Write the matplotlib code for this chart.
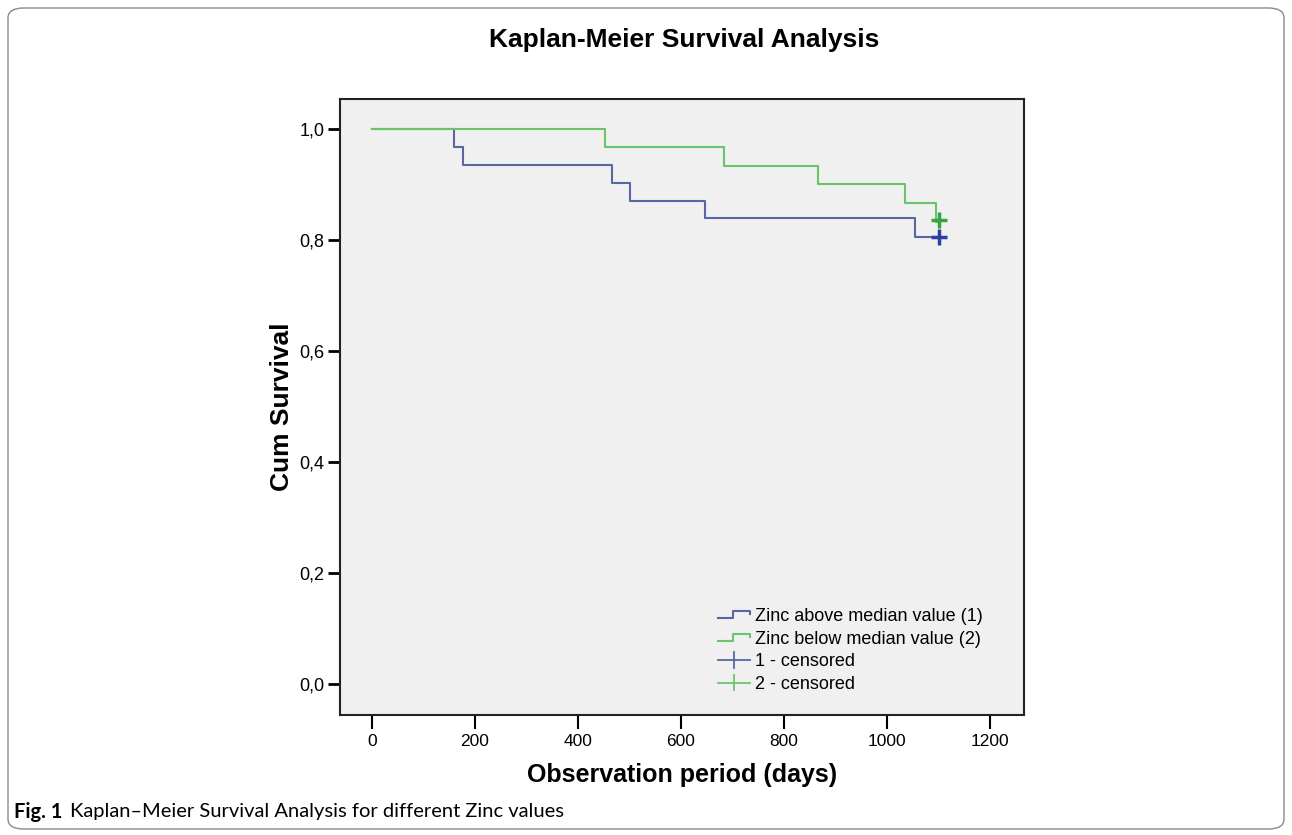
import matplotlib
matplotlib.use("Agg")
import matplotlib.pyplot as plt
from matplotlib.patches import FancyBboxPatch
from matplotlib.lines import Line2D
from matplotlib.legend_handler import HandlerBase
import numpy as np

# Data: step times (days) and survival levels
t_above = [0, 159, 177, 466, 501, 647, 1054, 1100]
s_above = [1.0, 0.968, 0.935, 0.903, 0.871, 0.839, 0.806, 0.806]
t_below = [0, 452, 683, 866, 1035, 1095, 1100]
s_below = [1.0, 0.967, 0.933, 0.900, 0.867, 0.833, 0.833]
cens_above_t = [1100]
cens_above_s = [0.806]
cens_below_t = [1100]
cens_below_s = [0.836]
xticks = [0, 200, 400, 600, 800, 1000, 1200]
yticks = [0.0, 0.2, 0.4, 0.6, 0.8, 1.0]
labels = ["Zinc above median value (1)", "Zinc below median value (2)",
          "1 - censored", "2 - censored"]

blue_line = "#5867a3"
blue_mark = "#2b3f9c"
green_line = "#6cc46a"
green_mark = "#2fa640"

plt.rcParams['font.family'] = ['Liberation Sans', 'DejaVu Sans']

fig = plt.figure(figsize=(12.92, 8.35), dpi=100)
fig.patch.set_facecolor("white")

# rounded border
border = FancyBboxPatch((8/1292, 6/835), 1276/1292, 821/835, transform=fig.transFigure,
                        boxstyle="round,pad=0,rounding_size=0.012",
                        facecolor="none", edgecolor="#8a8a8a", linewidth=1.0, clip_on=False)
fig.patches.append(border)

ax = fig.add_axes([340/1292, 1-715/835, 684/1292, 616/835])
ax.set_facecolor("#f0f0f0")

ax.step(t_above, s_above, where="post", color=blue_line, lw=1.5)
ax.step(t_below, s_below, where="post", color=green_line, lw=1.5)
ax.plot(cens_below_t, cens_below_s, '+', color=green_mark, ms=12, mew=2.5)
ax.plot(cens_above_t, cens_above_s, '+', color=blue_mark, ms=12, mew=2.5)

ax.set_xlim(-62, 1266)
ax.set_ylim(-0.056, 1.054)
ax.set_xticks(xticks)
ax.set_xticklabels([str(v) for v in xticks])
ax.set_yticks(yticks)
ax.set_yticklabels([f"{v:.1f}".replace('.', ',') for v in yticks])
ax.tick_params(axis='x', direction='out', length=10, width=1.5, labelsize=12.5, pad=4)
ax.tick_params(axis='y', direction='out', length=9, width=2, labelsize=13, pad=2)
for sp in ax.spines.values():
    sp.set_linewidth(1.5)
    sp.set_color("#222222")

ax.set_ylabel("Cum Survival", fontsize=19, fontweight='bold', labelpad=4)
ax.set_xlabel("Observation period (days)", fontsize=18, fontweight='bold', labelpad=10)

fig.text(684/1292, 1-40/835, "Kaplan-Meier Survival Analysis", ha='center', va='center',
         fontsize=19, fontweight='bold')


class StepHandler(HandlerBase):
    def __init__(self, color):
        super().__init__()
        self.color = color

    def create_artists(self, legend, orig_handle, xdescent, ydescent, width, height, fontsize, trans):
        w = width
        h = height
        xs = [0, 0.48*w, 0.48*w, w, w]
        ys = [0.2*h, 0.2*h, 0.75*h, 0.75*h, 0.5*h]
        ln = Line2D(np.array(xs) - xdescent, np.array(ys) - ydescent, color=self.color, lw=1.5,
                    transform=trans)
        return [ln]


class PlusHandler(HandlerBase):
    def __init__(self, color):
        super().__init__()
        self.color = color

    def create_artists(self, legend, orig_handle, xdescent, ydescent, width, height, fontsize, trans):
        w = width
        h = height
        l1 = Line2D(np.array([0, w]) - xdescent, np.array([0.5*h, 0.5*h]) - ydescent,
                    color=self.color, lw=1.3, transform=trans)
        l2 = Line2D(np.array([0.5*w, 0.5*w]) - xdescent, np.array([-0.1*h, 1.1*h]) - ydescent,
                    color=self.color, lw=1.3, transform=trans)
        return [l1, l2]


h1 = Line2D([], [], color=blue_line)
h2 = Line2D([], [], color=green_line)
h3 = Line2D([], [], color=blue_line)
h4 = Line2D([], [], color=green_line)
leg = ax.legend([h1, h2, h3, h4], labels,
                handler_map={h1: StepHandler(blue_line), h2: StepHandler(green_line),
                             h3: PlusHandler(blue_line), h4: PlusHandler(green_line)},
                loc='upper left', bbox_to_anchor=(0.5526, 0.174), frameon=False,
                borderpad=0, borderaxespad=0,
                fontsize=13, handlelength=1.78, handletextpad=0.28, labelspacing=0.32)

fig.text(14/1292, 1-812/835, "Fig. 1", fontsize=14.5, fontweight='bold', va='center',
         family=['Lato', 'DejaVu Sans'])
fig.text(70/1292, 1-812/835, "Kaplan\u2013Meier Survival Analysis for different Zinc values",
         fontsize=14.5, va='center', family=['Lato', 'DejaVu Sans'])

fig.savefig("out.png", dpi=100)
